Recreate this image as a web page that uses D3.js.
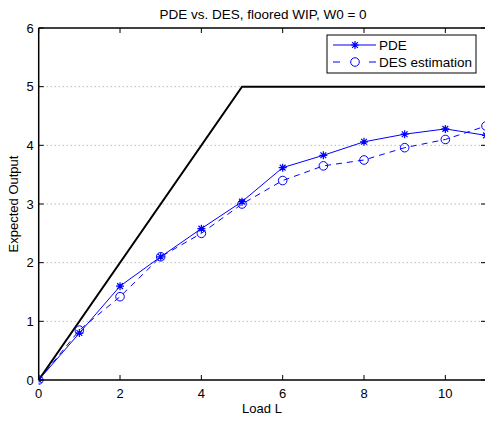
<!DOCTYPE html>
<html><head><meta charset="utf-8">
<script src="https://cdn.jsdelivr.net/npm/d3@7"></script>
<style>body{margin:0;background:#fff}svg{display:block}text{font-family:"Liberation Sans",Arial,Helvetica,sans-serif}</style>
</head><body>
<script>
const loads = [0,1,2,3,4,5,6,7,8,9,10,11];
const pde = [0,0.80,1.60,2.10,2.58,3.04,3.62,3.83,4.06,4.19,4.28,4.17];
const des = [0,0.85,1.42,2.10,2.50,3.00,3.40,3.65,3.75,3.96,4.10,4.33];
const boundX = [0,5,11];
const boundY = [0,5,5];
const xTicks = [0,2,4,6,8,10];
const yTicks = [0,1,2,3,4,5,6];
const title = "PDE vs. DES, floored WIP, W0 = 0";
const xLabel = "Load L";
const yLabel = "Expected Output";
const seriesNames = ["PDE","DES estimation"];

const W=485,H=421;
const L=38.7,R=486,T=28,B=380;
const svg=d3.select("body").append("svg").attr("width",W).attr("height",H);
const x=d3.scaleLinear().domain([0,11]).range([L,R]);
const y=d3.scaleLinear().domain([0,6]).range([B,T]);
const blue="#0000ff";

// grid
svg.append("g").selectAll("line").data(yTicks.filter(d=>d>0&&d<6)).join("line")
 .attr("x1",L).attr("x2",R).attr("y1",d=>y(d)).attr("y2",d=>y(d))
 .attr("stroke","#999").attr("stroke-width",1).attr("stroke-dasharray","1,3");

const plot=svg.append("g");
svg.append("clipPath").attr("id","c").append("rect").attr("x",L).attr("y",T-5).attr("width",R-L+5).attr("height",B-T+10);
plot.attr("clip-path","url(#c)");

const line=d3.line().x(d=>x(d[0])).y(d=>y(d[1]));
plot.append("path").datum(boundX.map((v,i)=>[v,boundY[i]])).attr("d",line)
 .attr("fill","none").attr("stroke","#000").attr("stroke-width",2);

plot.append("path").datum(loads.map((v,i)=>[v,pde[i]])).attr("d",line)
 .attr("fill","none").attr("stroke",blue).attr("stroke-width",1);
plot.append("path").datum(loads.map((v,i)=>[v,des[i]])).attr("d",line)
 .attr("fill","none").attr("stroke",blue).attr("stroke-width",1).attr("stroke-dasharray","6,5");

function star(g,cx,cy,s){
  const p=`M${cx-s},${cy}L${cx+s},${cy}M${cx},${cy-s}L${cx},${cy+s}M${cx-s*0.72},${cy-s*0.72}L${cx+s*0.72},${cy+s*0.72}M${cx-s*0.72},${cy+s*0.72}L${cx+s*0.72},${cy-s*0.72}`;
  g.append("path").attr("d",p).attr("stroke",blue).attr("stroke-width",1.2).attr("fill","none");
}
loads.forEach((v,i)=>star(plot,x(v),y(pde[i]),4));
plot.append("g").selectAll("circle").data(loads).join("circle")
 .attr("cx",d=>x(d)).attr("cy",(d,i)=>y(des[i])).attr("r",4.3)
 .attr("fill","none").attr("stroke",blue).attr("stroke-width",1);

// axes box
const ax=svg.append("g");
ax.append("line").attr("x1",L).attr("x2",R).attr("y1",B).attr("y2",B).attr("stroke","#000").attr("stroke-width",1.5);
ax.append("line").attr("x1",L).attr("x2",R).attr("y1",T).attr("y2",T).attr("stroke","#000").attr("stroke-width",1.5);
ax.append("line").attr("x1",L).attr("x2",L).attr("y1",T).attr("y2",B).attr("stroke","#000").attr("stroke-width",1.5);
ax.append("line").attr("x1",R).attr("x2",R).attr("y1",T).attr("y2",B).attr("stroke","#000").attr("stroke-width",1.5);
const tl=5;
xTicks.forEach(t=>{
  ax.append("line").attr("x1",x(t)).attr("x2",x(t)).attr("y1",B).attr("y2",B-tl).attr("stroke","#000");
  ax.append("line").attr("x1",x(t)).attr("x2",x(t)).attr("y1",T).attr("y2",T+tl).attr("stroke","#000");
  ax.append("text").attr("x",x(t)).attr("y",B+18).attr("text-anchor","middle").attr("font-size",13).text(t);
});
yTicks.forEach(t=>{
  ax.append("line").attr("x1",L).attr("x2",L+tl).attr("y1",y(t)).attr("y2",y(t)).attr("stroke","#000");
  ax.append("line").attr("x1",R).attr("x2",R-tl).attr("y1",y(t)).attr("y2",y(t)).attr("stroke","#000");
  ax.append("text").attr("x",L-5).attr("y",y(t)+4.5).attr("text-anchor","end").attr("font-size",13).text(t);
});
svg.append("text").attr("x",263).attr("y",19).attr("text-anchor","middle").attr("font-size",13.5).text(title);
svg.append("text").attr("x",262).attr("y",413).attr("text-anchor","middle").attr("font-size",13).text(xLabel);
svg.append("text").attr("transform","translate(18,204) rotate(-90)").attr("text-anchor","middle").attr("font-size",13).text(yLabel);

// legend
const lg=svg.append("g");
lg.append("rect").attr("x",327).attr("y",35).attr("width",149).attr("height",38).attr("fill","#fff").attr("stroke","#000").attr("stroke-width",1);
lg.append("line").attr("x1",333).attr("x2",376).attr("y1",45).attr("y2",45).attr("stroke",blue);
star(lg,355,45,4);
lg.append("text").attr("x",379).attr("y",49.5).attr("font-size",13.5).text(seriesNames[0]);
lg.append("line").attr("x1",333).attr("x2",376).attr("y1",62).attr("y2",62).attr("stroke",blue).attr("stroke-dasharray","7,29");
lg.append("circle").attr("cx",355).attr("cy",62).attr("r",4.3).attr("fill","none").attr("stroke",blue);
lg.append("text").attr("x",379).attr("y",66.5).attr("font-size",13.5).text(seriesNames[1]);
</script>
</body></html>
